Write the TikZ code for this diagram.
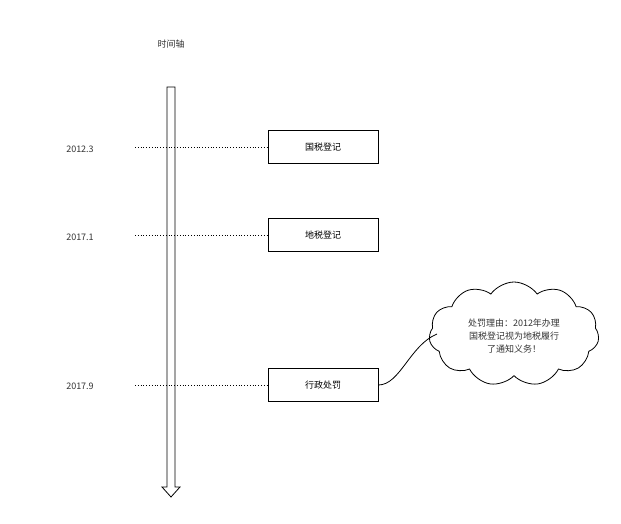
\documentclass[tikz,border=0pt]{standalone}
\usepackage{fontspec}
\setmainfont{Noto Sans CJK SC}
\usetikzlibrary{shapes.symbols}
\begin{document}
\begin{tikzpicture}[x=1pt,y=-1pt,
  evbox/.style={draw,thick,minimum width=110pt,minimum height=33pt,font=\fontsize{9}{11}\selectfont},
  lbl/.style={font=\fontsize{9}{11}\selectfont,text=black!80},
  dots/.style={thick,dotted}]
\useasboundingbox (0,0) rectangle (621,523);
\node[lbl] (title) at (171,44) {时间轴};
\draw[thick,fill=white] (167,87) -- (175,87) -- (175,487) -- (180,487) -- (171,497) -- (162,487) -- (167,487) -- cycle;
\node[evbox] (b1) at (323,147) {国税登记};
\node[evbox] (b2) at (323,235) {地税登记};
\node[evbox] (b3) at (323,385) {行政处罚};
\node[lbl] (l1) at (80,149) {2012.3};
\node[lbl] (l2) at (80,237) {2017.1};
\node[lbl] (l3) at (80,386) {2017.9};
\coordinate (d1) at (135,147);
\coordinate (d2) at (135,235);
\coordinate (d3) at (135,385);
\draw[dots] (d1) -- (b1.west);
\draw[dots] (d2) -- (b2.west);
\draw[dots] (d3) -- (b3.west);
\node[cloud,draw,thick,cloud puffs=11,cloud puff arc=110,aspect=1.6,minimum width=170pt,minimum height=104pt,inner sep=0pt] (c) at (514,334) {};
\node[font=\fontsize{9}{13}\selectfont,align=center,text=black!80] (ct) at (514,336) {处罚理由：2012年办理\\国税登记视为地税履行\\了通知义务！};
\coordinate (ce) at (437,334);
\draw[thick] (b3.east) .. controls (400,385) and (410,345) .. (ce);
\end{tikzpicture}
\end{document}
